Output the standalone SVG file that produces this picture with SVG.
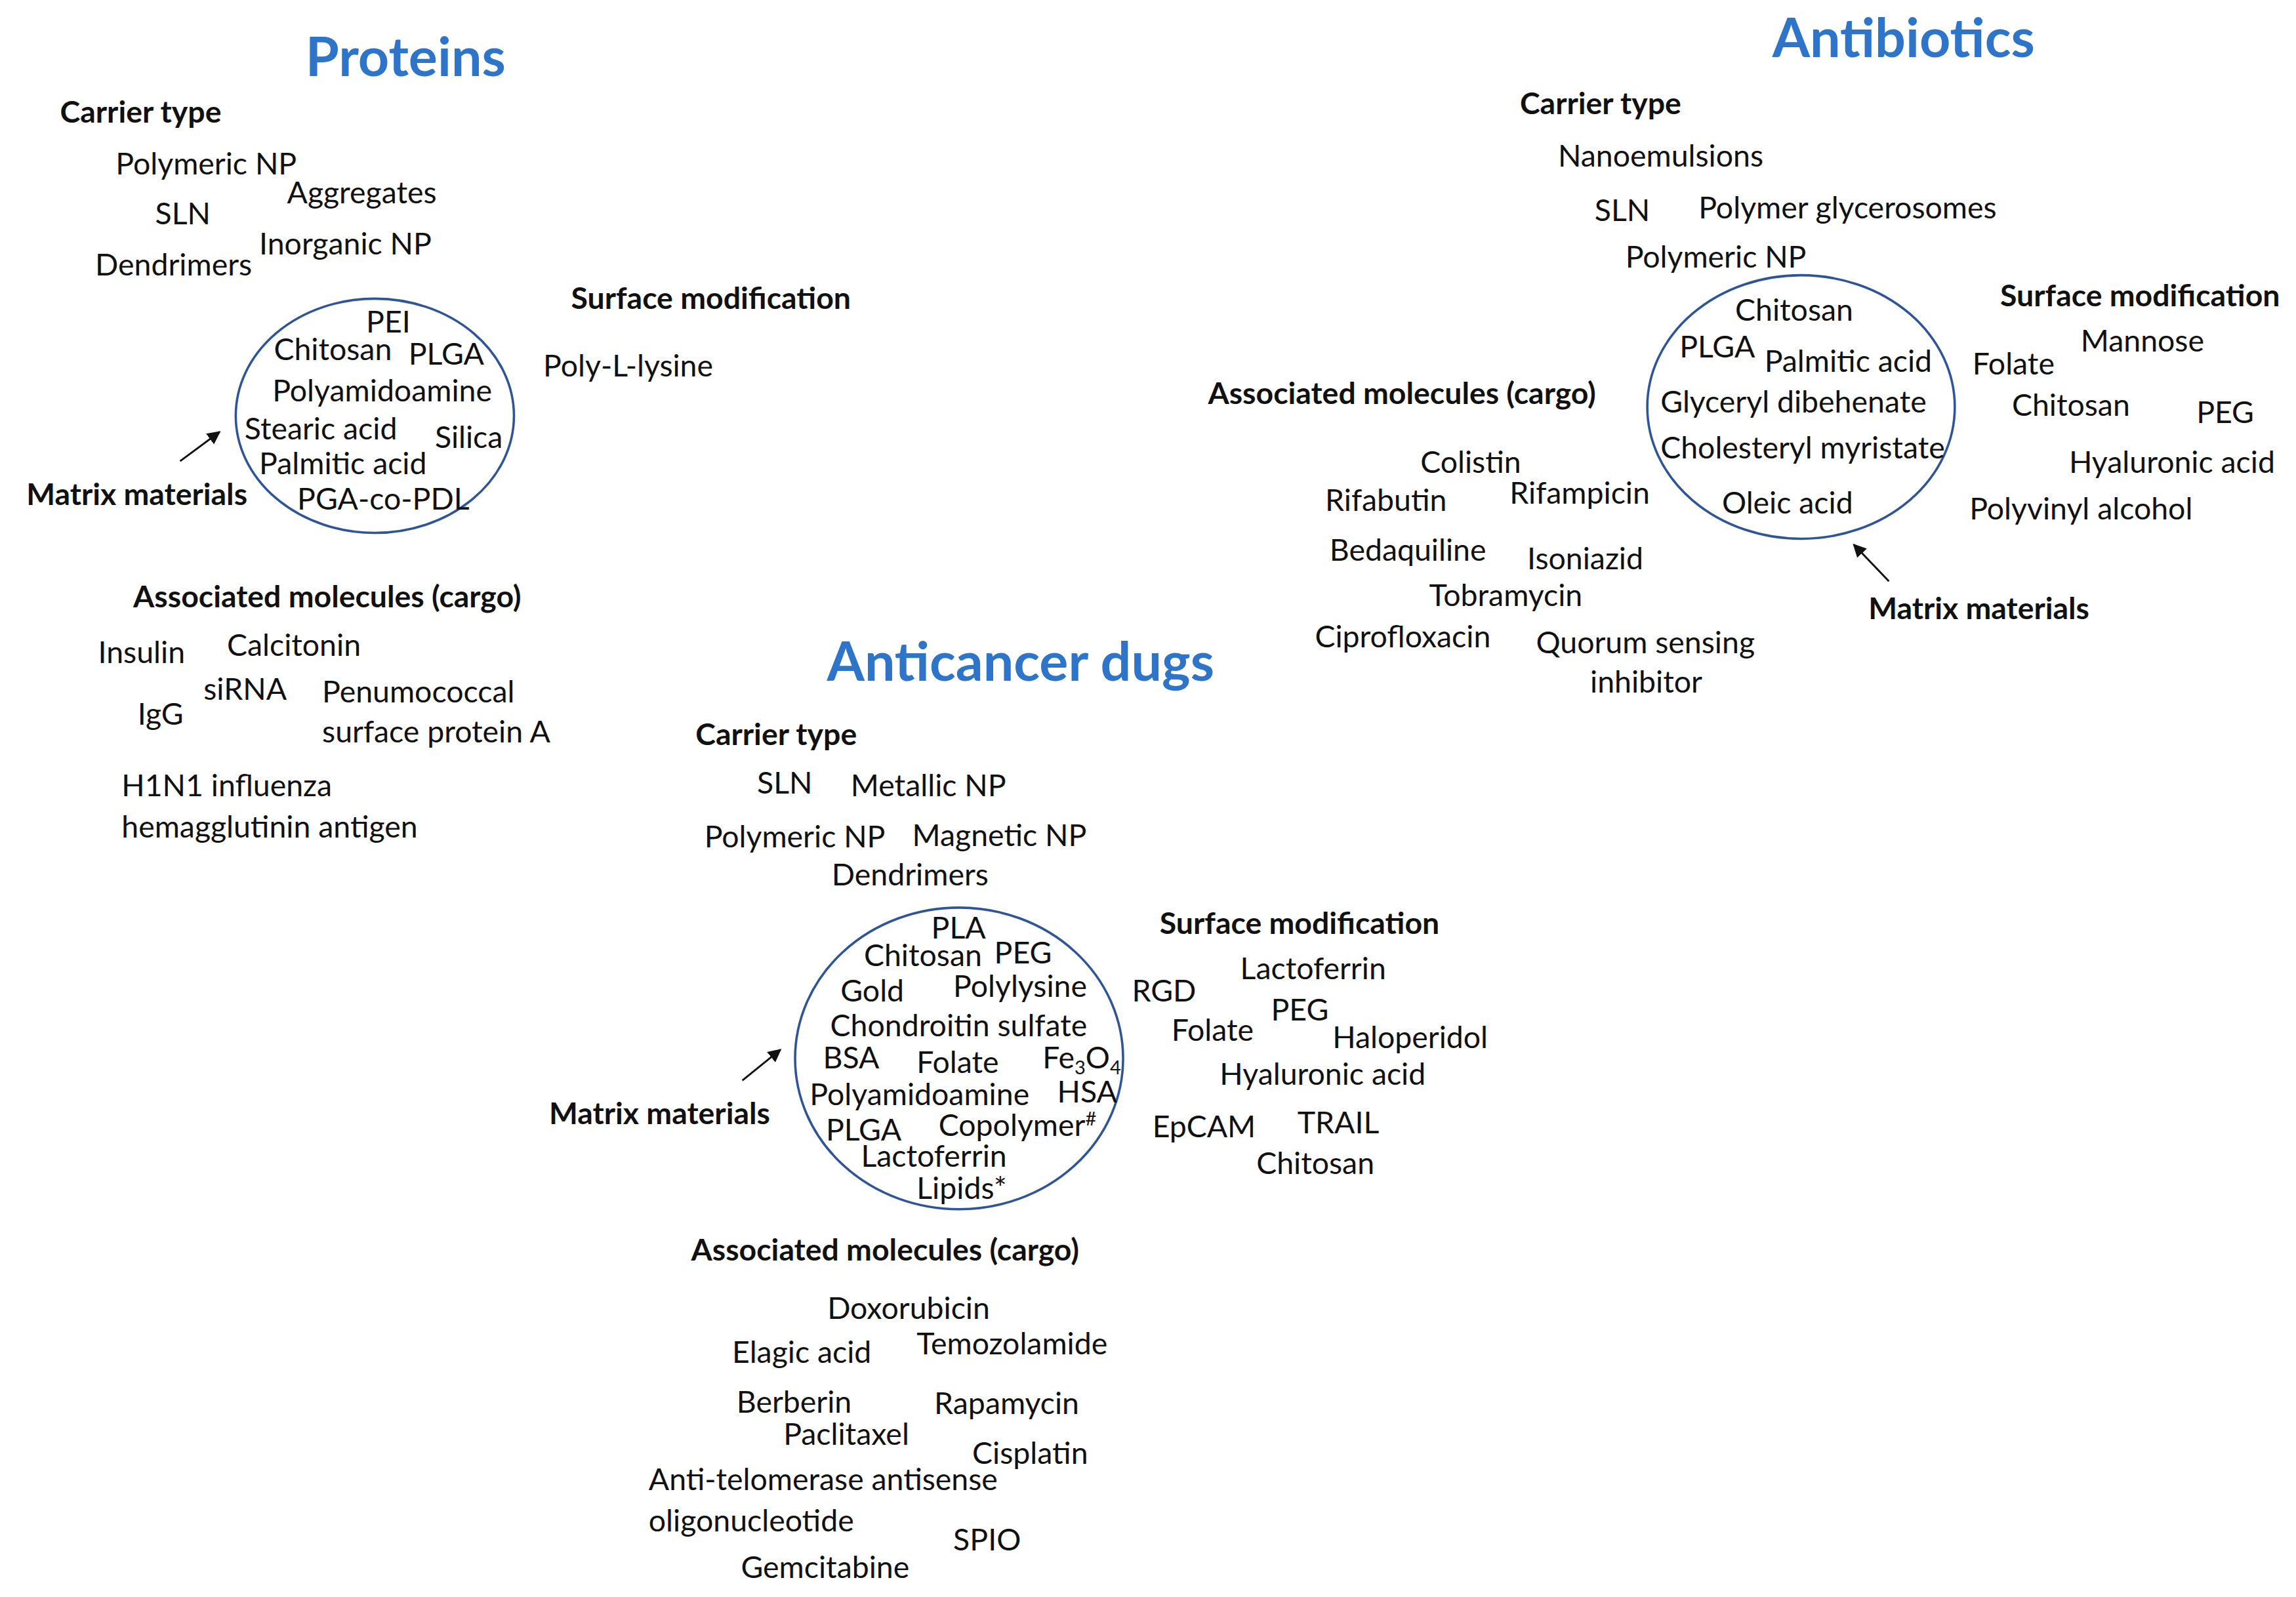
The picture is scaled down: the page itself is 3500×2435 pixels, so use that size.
<svg xmlns="http://www.w3.org/2000/svg" width="3500" height="2435" viewBox="0 0 3500 2435">
<style>
text{font-family:Lato,"Open Sans",sans-serif;font-size:20.8px;fill:#111}
.b{font-weight:bold}
.t{font-weight:bold;font-size:37px;fill:#2E74C8;text-anchor:middle}
.c{fill:none;stroke:#2F5597;stroke-width:1.6}
.a{stroke:#111;stroke-width:1.3;fill:none}
</style>
<defs><marker id="ah" viewBox="0 0 10 10" refX="9" refY="5" markerWidth="7" markerHeight="7" orient="auto"><path d="M0,0L10,5L0,10z" fill="#111"/></marker></defs>
<rect width="3500" height="2435" fill="#fff"/>
<g transform="scale(2.2321)">
<g id="proteins">
<text class="t" x="277" y="52">Proteins</text>
<text class="b" x="41" y="84">Carrier type</text>
<text x="79" y="119">Polymeric NP</text><text x="196" y="139">Aggregates</text><text x="106" y="153">SLN</text><text x="177" y="174">Inorganic NP</text><text x="65" y="188">Dendrimers</text>
<text class="b" x="390" y="211">Surface modification</text><text x="371" y="257">Poly-L-lysine</text>
<ellipse class="c" cx="256" cy="284" rx="95" ry="80"/>
<text x="250" y="227">PEI</text><text x="187" y="246">Chitosan</text><text x="279" y="249">PLGA</text><text x="186" y="274">Polyamidoamine</text><text x="167" y="300">Stearic acid</text><text x="297" y="306">Silica</text><text x="177" y="324">Palmitic acid</text><text x="203" y="348">PGA-co-PDL</text>
<text class="b" x="18" y="345">Matrix materials</text>
<text class="b" x="91" y="415">Associated molecules (cargo)</text>
<text x="67" y="453">Insulin</text><text x="155" y="448">Calcitonin</text><text x="139" y="478">siRNA</text><text x="220" y="480">Penumococcal</text><text x="220" y="507">surface protein A</text><text x="94" y="495">IgG</text><text x="83" y="544">H1N1 influenza</text><text x="83" y="572">hemagglutinin antigen</text>
</g>
<g id="antibiotics">
<text class="t" x="1300" y="39">Antibiotics</text>
<text class="b" x="1038" y="78">Carrier type</text>
<text x="1064" y="114">Nanoemulsions</text><text x="1089" y="151">SLN</text><text x="1160" y="149">Polymer glycerosomes</text><text x="1110" y="183">Polymeric NP</text>
<ellipse class="c" cx="1230" cy="278" rx="105" ry="90"/>
<text x="1185" y="219">Chitosan</text><text x="1147" y="244">PLGA</text><text x="1205" y="254">Palmitic acid</text><text x="1134" y="282">Glyceryl dibehenate</text><text x="1134" y="313">Cholesteryl myristate</text><text x="1176" y="351">Oleic acid</text>
<text class="b" x="1366" y="209">Surface modification</text>
<text x="1421" y="240">Mannose</text><text x="1347" y="256">Folate</text><text x="1374" y="284">Chitosan</text><text x="1500" y="289">PEG</text><text x="1413" y="323">Hyaluronic acid</text><text x="1345" y="355">Polyvinyl alcohol</text>
<text class="b" x="825" y="276">Associated molecules (cargo)</text>
<text x="970" y="323">Colistin</text><text x="905" y="349">Rifabutin</text><text x="1031" y="344">Rifampicin</text><text x="908" y="383">Bedaquiline</text><text x="1043" y="389">Isoniazid</text><text x="976" y="414">Tobramycin</text><text x="898" y="442">Ciprofloxacin</text><text x="1049" y="446">Quorum sensing</text><text x="1086" y="473">inhibitor</text>
<text class="b" x="1276" y="423">Matrix materials</text>
</g>
<g id="anticancer">
<text class="t" x="697" y="465">Anticancer dugs</text>
<text class="b" x="475" y="509">Carrier type</text>
<text x="517" y="542">SLN</text><text x="581" y="544">Metallic NP</text><text x="481" y="579">Polymeric NP</text><text x="623" y="578">Magnetic NP</text><text x="568" y="605">Dendrimers</text>
<ellipse class="c" cx="655" cy="723" rx="112" ry="103"/>
<text x="636" y="641">PLA</text><text x="590" y="660">Chitosan</text><text x="679" y="658">PEG</text><text x="574" y="684">Gold</text><text x="651" y="681">Polylysine</text><text x="567" y="708">Chondroitin sulfate</text><text x="562" y="730">BSA</text><text x="626" y="733">Folate</text><text x="712" y="730">Fe<tspan font-size="13" dy="4">3</tspan><tspan dy="-4">O</tspan><tspan font-size="13" dy="4">4</tspan></text><text x="553" y="755">Polyamidoamine</text><text x="722" y="753">HSA</text><text x="564" y="779">PLGA</text><text x="641" y="776">Copolymer<tspan font-size="13" dy="-7">#</tspan></text><text x="588" y="797">Lactoferrin</text><text x="626" y="819">Lipids*</text>
<text class="b" x="375" y="768">Matrix materials</text>
<text class="b" x="792" y="638">Surface modification</text>
<text x="847" y="669">Lactoferrin</text><text x="773" y="684">RGD</text><text x="868" y="697">PEG</text><text x="800" y="711">Folate</text><text x="910" y="716">Haloperidol</text><text x="833" y="741">Hyaluronic acid</text><text x="787" y="777">EpCAM</text><text x="886" y="774">TRAIL</text><text x="858" y="802">Chitosan</text>
<text class="b" x="472" y="861">Associated molecules (cargo)</text>
<text x="565" y="901">Doxorubicin</text><text x="500" y="931">Elagic acid</text><text x="626" y="925">Temozolamide</text><text x="503" y="965">Berberin</text><text x="638" y="966">Rapamycin</text><text x="535" y="987">Paclitaxel</text><text x="664" y="1000">Cisplatin</text><text x="443" y="1018">Anti-telomerase antisense</text><text x="443" y="1046">oligonucleotide</text><text x="651" y="1059">SPIO</text><text x="506" y="1078">Gemcitabine</text>
</g>
<g id="connectors">
<line class="a" x1="123" y1="315" x2="150" y2="295" marker-end="url(#ah)"/>
<line class="a" x1="1290" y1="397" x2="1266" y2="372" marker-end="url(#ah)"/>
<line class="a" x1="507" y1="738" x2="533" y2="717" marker-end="url(#ah)"/>
</g>
</g>
</svg>
